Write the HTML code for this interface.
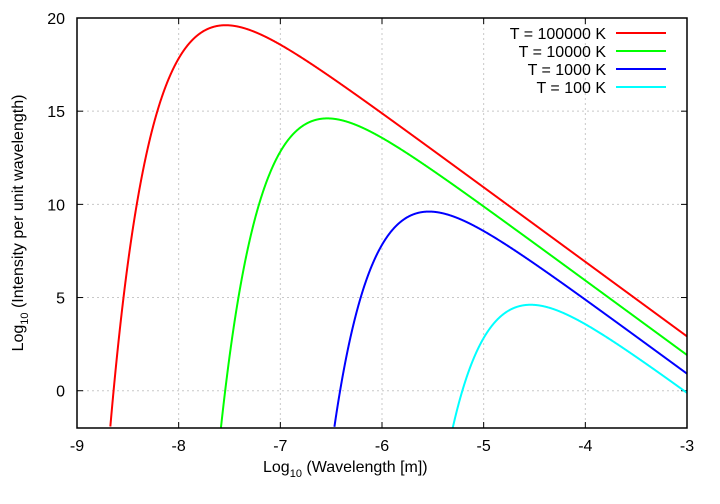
<!DOCTYPE html>
<html><head><meta charset="utf-8"><style>body{margin:0;background:#fff}svg{display:block}text{font-family:"Liberation Sans",sans-serif;font-size:16px;fill:#000}</style></head>
<body>
<svg id="s" width="720" height="504" viewBox="0 0 720 504" xmlns="http://www.w3.org/2000/svg">
<g id="grid" stroke="#c8c8c8" stroke-width="1" stroke-dasharray="2,3"></g>
<g id="ticks" stroke="#000" stroke-width="1"></g>
<g id="labels"></g>
<g id="curves" fill="none" stroke-width="2"></g>
<rect x="77" y="18" width="610" height="410" fill="none" stroke="#000" stroke-width="1.5"/>
<text x="263" y="472" style="font-size:16px">Log<tspan dy="5" style="font-size:11px">10</tspan><tspan dy="-5"> (Wavelength [m])</tspan></text>
<text transform="translate(23,223) rotate(-90)" text-anchor="middle">Log<tspan dy="5" style="font-size:11px">10</tspan><tspan dy="-5"> (Intensity per unit wavelength)</tspan></text>
<g text-anchor="end">
<text x="606" y="39">T = 100000 K</text>
<text x="606" y="57">T = 10000 K</text>
<text x="606" y="75">T = 1000 K</text>
<text x="606" y="93">T = 100 K</text>
</g>
<g stroke-width="2">
<line x1="616" y1="33" x2="666" y2="33" stroke="#ff0000"/>
<line x1="616" y1="51" x2="666" y2="51" stroke="#00ff00"/>
<line x1="616" y1="69" x2="666" y2="69" stroke="#0000ff"/>
<line x1="616" y1="87" x2="666" y2="87" stroke="#00ffff"/>
</g>
</svg>
<script>
var L=77,R=687,T=18,B=428;
function X(v){return L+(v+9)/6*(R-L);}
function Y(v){return B-(v+2)/22*(B-T);}
var ns="http://www.w3.org/2000/svg";
function el(p,t,a,txt){var e=document.createElementNS(ns,t);for(var k in a)e.setAttribute(k,a[k]);if(txt!=null)e.textContent=txt;document.getElementById(p).appendChild(e);}
for(var i=-8;i<=-4;i++)el("grid","line",{x1:X(i),x2:X(i),y1:T,y2:B});
for(var j=0;j<=15;j+=5)el("grid","line",{x1:L,x2:R,y1:Y(j),y2:Y(j)});
for(var i=-9;i<=-3;i++){el("ticks","line",{x1:X(i),x2:X(i),y1:B,y2:B-6});el("ticks","line",{x1:X(i),x2:X(i),y1:T,y2:T+6});el("labels","text",{x:X(i),y:B+23,"text-anchor":"middle"},String(i).replace("-","-"));}
for(var j=0;j<=20;j+=5){el("ticks","line",{x1:L,x2:L+6,y1:Y(j),y2:Y(j)});el("ticks","line",{x1:R,x2:R-6,y1:Y(j),y2:Y(j)});el("labels","text",{x:L-12,y:Y(j)+6,"text-anchor":"end"},j);}
var h=6.626e-34,c=2.998e8,k=1.381e-23;
var Ts=[[1e5,"#ff0000"],[1e4,"#00ff00"],[1e3,"#0000ff"],[100,"#00ffff"]];
Ts.forEach(function(t){var d="",st=false;for(var n=0;n<=3000;n++){var lx=-9+6*n/3000,lam=Math.pow(10,lx);var x=h*c/(lam*k*t[0]);var lv;if(x>700)lv=-1e9;else lv=Math.log10(2*h*c*c)-5*lx-Math.log10(Math.expm1(x));
if(lv<-2){if(!st)continue;}
var yy=Y(Math.max(lv,-2));d+=(st?"L":"M")+X(lx).toFixed(2)+","+yy.toFixed(2);st=true;}
el("curves","path",{d:d,stroke:t[1]});});
</script>
</body></html>
